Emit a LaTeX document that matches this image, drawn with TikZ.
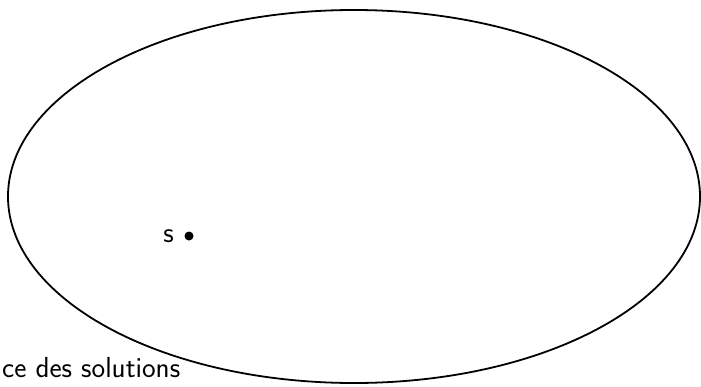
\documentclass[tikz,border=0pt]{standalone}
\usetikzlibrary{shapes.geometric}
\begin{document}
\begin{tikzpicture}[x=1pt,y=-1pt,
  lbl/.style={font=\sffamily\fontsize{29}{34}\selectfont, inner sep=0pt},
  outline/.style={draw=black, line width=1.8pt}]
\useasboundingbox (0,0) rectangle (701,386);
\node[outline, ellipse, minimum width=692pt, minimum height=373pt, inner sep=0pt] (space) at (354,196.5) {};
\fill (189,236) circle (4.5) coordinate (sdot);
\node[lbl, anchor=base east] (slabel) at (174,242) {s};
\node[lbl, anchor=base west] (spacelabel) at (2,377) {ce des solutions};
\end{tikzpicture}
\end{document}
